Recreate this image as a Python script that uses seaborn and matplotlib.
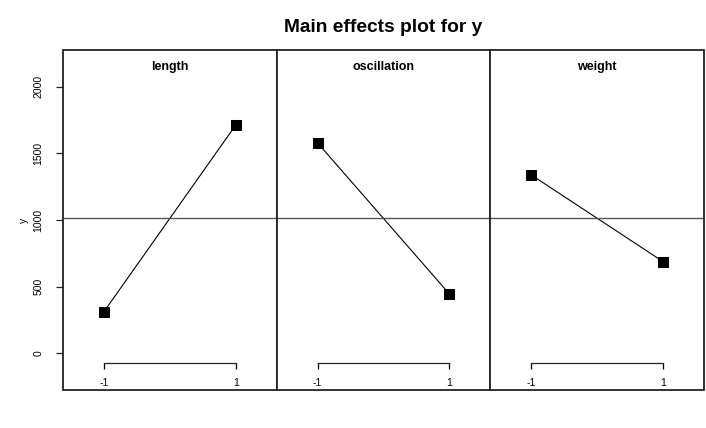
import matplotlib
matplotlib.use("Agg")
import matplotlib.pyplot as plt
import matplotlib.patches as mpatches
import seaborn as sns
import numpy as np
import pandas as pd

# factors and mean response at each level
factors = ["length", "oscillation", "weight"]
levels = [-1, 1]
length_means = [312, 1712]
oscillation_means = [1578, 445]
weight_means = [1338, 688]
y_ticks = [0, 500, 1000, 1500, 2000]

df = pd.DataFrame({
    "factor": np.repeat(factors, len(levels)),
    "level": levels * len(factors),
    "y": length_means + oscillation_means + weight_means,
})
grand_mean = df["y"].mean()

sns.set_style("white")
plt.rcParams["font.family"] = ["Liberation Sans", "DejaVu Sans"]
plt.rcParams.update({"text.color": "black", "axes.labelcolor": "black",
                     "xtick.color": "black", "ytick.color": "black"})

fig = plt.figure(figsize=(7.06, 4.28), dpi=100)
left, right, bottom, top = 63 / 706, 704 / 706, 1 - 390 / 428, 1 - 50 / 428
w = (right - left) / 3
ylim = (-274, 2274)
frame_col = "#222222"

for i, name in enumerate(factors):
    ax = fig.add_axes([left + i * w, bottom, w, top - bottom])
    sub = df[df["factor"] == name]
    sns.lineplot(data=sub, x="level", y="y", ax=ax, color="black", lw=0.8,
                 marker="s", markersize=7.5, markeredgecolor="black")
    ax.axhline(grand_mean, color="#555555", lw=1.0)
    ax.set_xlim(-1.62, 1.62)
    ax.set_ylim(*ylim)

    # bracket-style x axis
    for s in ["top", "right", "left"]:
        ax.spines[s].set_visible(False)
    ax.spines["bottom"].set_position(("data", -68))
    ax.spines["bottom"].set_bounds(-1, 1)
    ax.spines["bottom"].set_linewidth(0.9)
    ax.spines["bottom"].set_color("#222222")
    ax.set_xticks(levels)
    ax.set_xticklabels([str(l) for l in levels])
    ax.tick_params(axis="x", direction="out", length=4.5, width=0.9,
                   labelsize=7.5, pad=7, bottom=True)

    # panel frame
    ax.add_patch(mpatches.Rectangle((0, 0), 1, 1, transform=ax.transAxes,
                                    fill=False, edgecolor=frame_col, lw=1.3,
                                    clip_on=False, zorder=5))

    ax.text(0.5, 1 - 17 / 340, name, transform=ax.transAxes, ha="center",
            va="center", fontsize=9, fontweight="bold")
    ax.set_xlabel("")
    if i == 0:
        ax.set_yticks(y_ticks)
        ax.set_yticklabels([str(t) for t in y_ticks], rotation=90, va="center")
        ax.tick_params(axis="y", direction="out", length=5, width=0.9,
                       labelsize=7.5, pad=9, left=True, color="#222222")
        ax.set_ylabel("y", fontsize=7.5, labelpad=3.5)
    else:
        ax.set_yticks([])
        ax.set_ylabel("")

fig.suptitle("Main effects plot for y", x=(left + right) / 2, y=1 - 28 / 428,
             va="center", fontsize=13.8, fontweight="bold")

fig.savefig("out.png", dpi=100)
